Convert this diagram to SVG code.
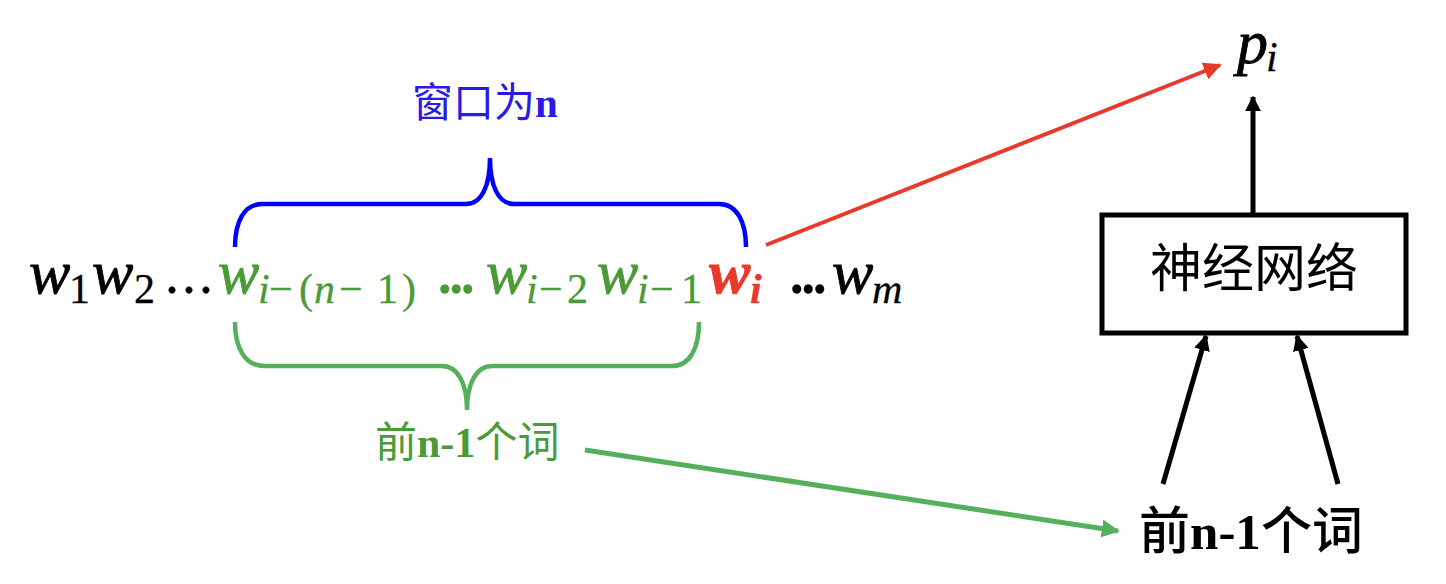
<svg xmlns="http://www.w3.org/2000/svg" width="1446" height="584" viewBox="0 0 1446 584">
<style>
.m{font-family:"Liberation Serif","DejaVu Serif",serif;font-style:italic;font-size:62px;stroke-width:0.8px}
.s{font-family:"Liberation Serif","DejaVu Serif",serif;font-size:42px}
.si{font-family:"Liberation Serif","DejaVu Serif",serif;font-size:42px;font-style:italic}
.d{font-family:"Liberation Serif",serif;font-size:56px;letter-spacing:3px}
.db{font-family:"Liberation Serif",serif;font-size:54px;font-weight:bold;letter-spacing:-2px}
.cj{font-family:"Liberation Serif","Noto Sans CJK SC",serif}
.k{fill:#000;stroke:#000}
.g{fill:#4A9B38;stroke:#4A9B38}
.r{fill:#E8392A;stroke:#E8392A}
.b{fill:#2A1AE6}
.s,.si,.d,.db{stroke-width:0.3px}
</style>
<defs>
<marker id="ar" viewBox="0 0 10 10" refX="9" refY="5" markerWidth="4.5" markerHeight="4.5" orient="auto" markerUnits="strokeWidth"><path d="M0,0 L10,5 L0,10 z" fill="#E8392A"/></marker>
<marker id="ag" viewBox="0 0 10 10" refX="9" refY="5" markerWidth="3.6" markerHeight="3.6" orient="auto" markerUnits="strokeWidth"><path d="M0,0 L10,5 L0,10 z" fill="#55B05B"/></marker>
<marker id="ak" viewBox="0 0 10 10" refX="9" refY="5" markerWidth="3.2" markerHeight="3.2" orient="auto" markerUnits="strokeWidth"><path d="M0,0 L10,5 L0,10 z" fill="#000"/></marker>
</defs>

<g id="sequence">
<text class="m k" x="29" y="293">w</text>
<text class="s k" x="69" y="303">1</text>
<text class="m k" x="92" y="293">w</text>
<text class="s k" x="134" y="303">2</text>
<text class="d k" x="165" y="293">...</text>
<text class="m g" x="218" y="293">w</text>
<text class="si g" x="258" y="303">i</text>
<text class="s g" x="269" y="303">−</text>
<text class="s g" x="299" y="303">(</text>
<text class="si g" x="314" y="303">n</text>
<text class="s g" x="339" y="303">−</text>
<text class="s g" x="377" y="303">1</text>
<text class="s g" x="402" y="303">)</text>
<text class="db g" x="438" y="293">...</text>
<text class="m g" x="486" y="293">w</text>
<text class="si g" x="526" y="303">i</text>
<text class="s g" x="539" y="303">−</text>
<text class="s g" x="567" y="303">2</text>
<text class="m g" x="597" y="293">w</text>
<text class="si g" x="637" y="303">i</text>
<text class="s g" x="650" y="303">−</text>
<text class="s g" x="681" y="303">1</text>
<text class="m r" x="709" y="293" font-weight="bold">w</text>
<text class="si r" x="750" y="303" font-weight="bold">i</text>
<text class="db k" x="790" y="293">...</text>
<text class="m k" x="832" y="293">w</text>
<text class="si k" x="872" y="303">m</text>
</g>

<g id="window-brace">
<path d="M235,247 C235,222 244,204 262,204 L466,204 C482,204 490,185 490,158 C490,185 498,204 514,204 L719,204 C737,204 746,222 746,247" fill="none" stroke="#0000FF" stroke-width="4.5"/>
<text class="cj b" x="412" y="117" font-size="41"><tspan>窗口为</tspan><tspan font-weight="bold">n</tspan></text>
</g>

<g id="context-brace">
<path d="M235,322 C235,348 245,366 264,366 L442,366 C458,366 467,384 467,410 C467,384 476,366 492,366 L672,366 C690,366 699,348 699,322" fill="none" stroke="#55B05B" stroke-width="4.5"/>
<text class="cj" fill="#4A9B38" x="375" y="457" font-size="42"><tspan>前</tspan><tspan font-weight="bold">n-1</tspan><tspan>个词</tspan></text>
</g>

<g id="nn">
<rect x="1102" y="215" width="304" height="118" fill="#fff" stroke="#000" stroke-width="5"/>
<text x="1254" y="287" text-anchor="middle" font-family="'Noto Sans CJK SC',sans-serif" font-size="52" fill="#000">神经网络</text>
</g>

<g id="output">
<text class="m k" x="1237" y="63" font-size="58">p</text>
<text class="si k" x="1266" y="71">i</text>
</g>

<g id="input">
<text class="cj" fill="#000" x="1139" y="549" font-size="51"><tspan font-weight="500">前</tspan><tspan font-weight="bold">n-1</tspan><tspan font-weight="500">个词</tspan></text>
</g>

<g id="connectors" fill="none">
<line x1="766" y1="245" x2="1220" y2="65" stroke="#E8392A" stroke-width="4" marker-end="url(#ar)"/>
<line x1="585" y1="450" x2="1118" y2="531" stroke="#55B05B" stroke-width="5" marker-end="url(#ag)"/>
<line x1="1253" y1="213" x2="1253" y2="97" stroke="#000" stroke-width="5" marker-end="url(#ak)"/>
<line x1="1163" y1="484" x2="1206" y2="336" stroke="#000" stroke-width="5" marker-end="url(#ak)"/>
<line x1="1338" y1="484" x2="1297" y2="336" stroke="#000" stroke-width="5" marker-end="url(#ak)"/>
</g>
</svg>
